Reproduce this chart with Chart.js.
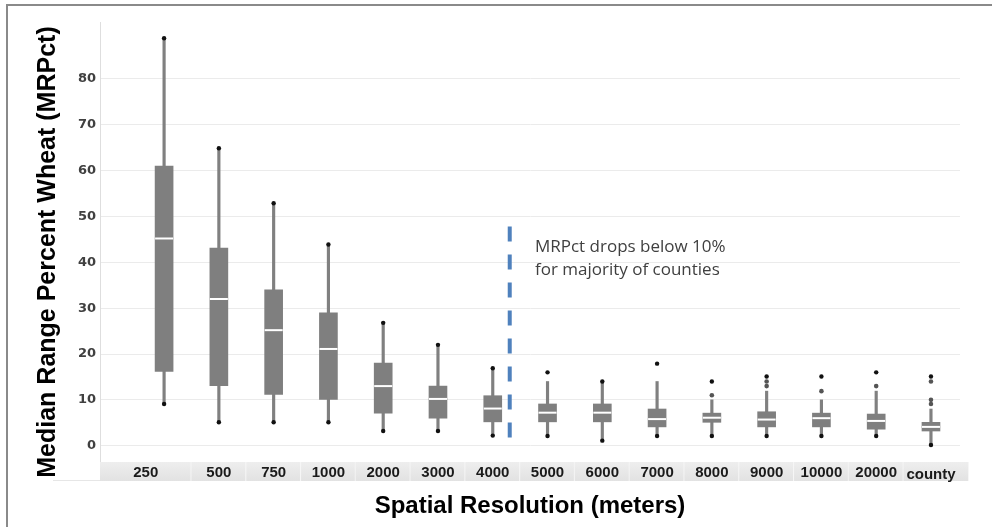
<!DOCTYPE html>
<html>
<head>
<meta charset="utf-8">
<title>MRPct by spatial resolution</title>
<script src="https://cdn.jsdelivr.net/npm/chart.js@4.4.1/dist/chart.umd.min.js"></script>
<style>
  html, body { margin: 0; padding: 0; background: #fff; }
  canvas { display: block; }
</style>
</head>
<body>
<canvas id="mrpctChart" width="992" height="527"></canvas>
<script>
// box plot summary per resolution (MRPct, %)
const resolutions = ['250', '500', '750', '1000', '2000', '3000', '4000', '5000', '6000', '7000', '8000', '9000', '10000', '20000', 'county'];
const lowEnds    = [9.1, 5.1, 5.1, 5.1, 3.2, 3.2, 2.2, 2.1, 1.1, 2.1, 2.1, 2.1, 2.1, 2.1, 0.15];
const lowerQ     = [16.2, 13.1, 11.2, 10.1, 7.1, 6.0, 5.2, 5.2, 5.2, 4.1, 5.1, 4.1, 4.1, 3.6, 3.2];
const medians    = [45.2, 32.0, 25.2, 21.1, 13.0, 10.2, 8.1, 7.2, 7.2, 5.8, 6.1, 5.7, 6.0, 5.4, 4.1];
const upperQ     = [61.0, 43.1, 34.0, 29.0, 18.0, 13.0, 10.9, 9.1, 9.1, 8.0, 7.1, 7.4, 7.1, 6.9, 5.1];
const whiskerTop = [88.9, 64.9, 52.9, 43.9, 26.8, 22.0, 16.9, 14.0, 14.0, 14.0, 10.0, 11.9, 10.0, 11.9, 8.0];
const highEnds   = [88.9, 64.9, 52.9, 43.9, 26.8, 22.0, 16.9, 16.0, 14.0, 17.9, 14.0, 15.1, 15.1, 16.0, 15.1];
const outliers   = [[], [], [], [], [], [], [], [], [], [], [11.0], [13.0, 14.0], [11.9], [13.0], [9.1, 10.0, 14.0]];
const yTicks     = [0, 10, 20, 30, 40, 50, 60, 70, 80];

// threshold marker between 4000 and 5000
const cutX = 6.31;
const cutTop = 47.8;
const cutBottom = 1.6;
const noteLines = ['MRPct drops below 10%', 'for majority of counties'];

const pts = (arr) => arr.map((v, i) => ({ x: i, y: v }));

const extremes = pts(lowEnds).concat(pts(highEnds));
const outlierPts = [];
outliers.forEach((list, i) => list.forEach(v => outlierPts.push({ x: i, y: v })));

const decorations = {
    id: 'decorations',
    beforeDraw(chart) {
        const ctx = chart.ctx;
        ctx.save();
        ctx.strokeStyle = '#8a8a8a';
        ctx.lineWidth = 2;
        ctx.beginPath();
        ctx.moveTo(7, chart.height);
        ctx.lineTo(7, 5);
        ctx.lineTo(chart.width, 5);
        ctx.stroke();
        ctx.restore();
    },
    afterDraw(chart) {
        const { ctx, chartArea: a, scales: { x, y } } = chart;
        ctx.save();

        // category strip under the plot
        const top = a.bottom, h = 19;
        const grad = ctx.createLinearGradient(0, top, 0, top + h);
        grad.addColorStop(0, '#eeeeee');
        grad.addColorStop(1, '#e2e2e2');
        ctx.strokeStyle = '#e6e6e6';
        ctx.lineWidth = 1;
        ctx.beginPath();
        ctx.moveTo(53, top + h - 0.5);
        ctx.lineTo(a.left, top + h - 0.5);
        ctx.stroke();
        ctx.font = 'bold 15px "Liberation Sans", Arial, sans-serif';
        ctx.textAlign = 'center';
        resolutions.forEach((lab, i) => {
            const l = i === 0 ? a.left : x.getPixelForValue(i - 0.5);
            const r = i === resolutions.length - 1 ? a.right + 9 : x.getPixelForValue(i + 0.5);
            ctx.fillStyle = grad;
            ctx.fillRect(l, top, r - l, h);
            ctx.fillStyle = '#f6f6f6';
            ctx.fillRect(r - 1, top, 1, h);
            ctx.fillStyle = '#1a1a1a';
            const cx = i === 0 ? (l + r) / 2 : x.getPixelForValue(i);
            ctx.fillText(lab, cx, lab === 'county' ? top + 16.5 : top + 14.5);
        });

        // axis titles
        ctx.fillStyle = '#000';
        ctx.font = 'bold 24px "Liberation Sans", Arial, sans-serif';
        ctx.textAlign = 'center';
        ctx.fillText('Spatial Resolution (meters)', 530, 513);
        ctx.save();
        ctx.translate(55, 252);
        ctx.rotate(-Math.PI / 2);
        ctx.font = 'bold 25px "Liberation Sans", Arial, sans-serif';
        ctx.fillText('Median Range Percent Wheat (MRPct)', 0, 0);
        ctx.restore();

        // note next to the dashed line
        ctx.fillStyle = '#404040';
        ctx.font = '17px "Open Sans", sans-serif';
        ctx.textAlign = 'left';
        const nx = x.getPixelForValue(6.77);
        const ny = y.getPixelForValue(42.2);
        noteLines.forEach((t, k) => ctx.fillText(t, nx, ny + k * 23));

        ctx.restore();
    }
};

const ctx = document.getElementById('mrpctChart').getContext('2d');
new Chart(ctx, {
    type: 'bar',
    data: {
        datasets: [
            {
                type: 'line',
                data: [{ x: cutX, y: cutTop }, { x: cutX, y: cutBottom }],
                borderColor: '#4f81bd',
                borderWidth: 4,
                borderDash: [15, 13],
                pointRadius: 0,
                order: 0
            },
            {
                type: 'scatter',
                data: outlierPts,
                pointRadius: 2.3,
                pointBackgroundColor: '#555',
                pointBorderWidth: 0,
                order: 1
            },
            {
                type: 'scatter',
                data: extremes,
                pointRadius: 2.2,
                pointBackgroundColor: '#111',
                pointBorderWidth: 0,
                order: 2
            },
            {
                type: 'scatter',
                data: pts(medians),
                pointStyle: 'line',
                pointRadius: 9,
                pointBorderColor: '#ffffff',
                pointBorderWidth: 2,
                order: 3
            },
            {
                data: lowerQ.map((v, i) => ({ x: i, y: [v, upperQ[i]] })),
                backgroundColor: '#7f7f7f',
                barThickness: 18,
                grouped: false,
                order: 4
            },
            {
                data: lowEnds.map((v, i) => ({ x: i, y: [v, whiskerTop[i]] })),
                backgroundColor: '#808080',
                barThickness: 2.5,
                grouped: false,
                order: 5
            }
        ]
    },
    options: {
        responsive: false,
        animation: false,
        events: [],
        layout: { padding: { left: 0, top: 22, right: 32, bottom: 65 } },
        plugins: {
            legend: { display: false },
            tooltip: { enabled: false }
        },
        scales: {
            x: {
                type: 'linear',
                min: -1.17,
                max: 14.53,
                offset: false,
                display: false
            },
            y: {
                min: -3.56,
                max: 92.43,
                afterFit(scale) { scale.width = 100; },
                afterBuildTicks(scale) { scale.ticks = yTicks.map(v => ({ value: v })); },
                grid: { color: '#ebebeb', drawTicks: false },
                border: { color: '#dedede' },
                ticks: {
                    padding: 4,
                    color: '#404040',
                    font: { family: '"DejaVu Sans", sans-serif', weight: 'bold', size: 13 }
                }
            }
        }
    },
    plugins: [decorations]
});
</script>
</body>
</html>
